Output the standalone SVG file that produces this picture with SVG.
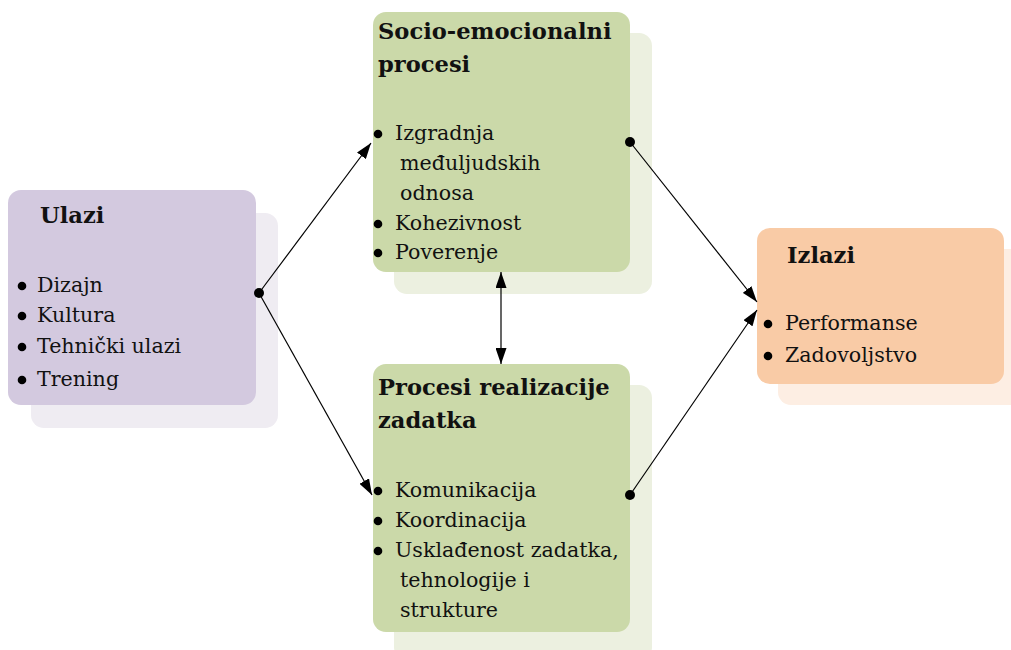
<svg xmlns="http://www.w3.org/2000/svg" width="1011" height="650" viewBox="0 0 1011 650">
  <style>
    .h { font-family: "DejaVu Serif", "Liberation Serif", serif; font-weight: bold; font-size: 22.6px; fill: #111; }
    .t { font-family: "DejaVu Serif", "Liberation Serif", serif; font-size: 20.6px; fill: #111; }
    .dot { fill: #000; }
    .conn { stroke: #000; stroke-width: 1.2; fill: none; }
  </style>
  <defs>
    <marker id="ah" viewBox="0 0 16 11" refX="16" refY="5.5" markerWidth="16" markerHeight="11" markerUnits="userSpaceOnUse" orient="auto-start-reverse">
      <path d="M0,0 L16,5.5 L0,11 z" fill="#000"/>
    </marker>
  </defs>
  <rect width="1011" height="650" fill="#fff"/>

  <!-- Inputs -->
  <g id="ulazi">
    <rect x="31" y="213" width="247" height="215" rx="13" fill="#efecf2"/>
    <rect x="8" y="190" width="248" height="215" rx="13" fill="#d3c9df"/>
    <text class="h" x="40" y="223">Ulazi</text>
    <circle class="dot" cx="22" cy="286" r="4.3"/>
    <text class="t" x="37" y="292">Dizajn</text>
    <circle class="dot" cx="22" cy="316" r="4.3"/>
    <text class="t" x="37" y="322">Kultura</text>
    <circle class="dot" cx="22" cy="347" r="4.3"/>
    <text class="t" x="37" y="353">Tehnički ulazi</text>
    <circle class="dot" cx="22" cy="380" r="4.3"/>
    <text class="t" x="37" y="386">Trening</text>
  </g>

  <!-- Socio-emotional processes -->
  <g id="socio">
    <rect x="394" y="33" width="258" height="261" rx="13" fill="#ecf0e0"/>
    <rect x="373" y="12" width="257" height="260" rx="13" fill="#cbd9a9"/>
    <text class="h" x="378" y="39">Socio-emocionalni</text>
    <text class="h" x="378" y="72">procesi</text>
    <circle class="dot" cx="378" cy="134" r="4.3"/>
    <text class="t" x="395" y="140">Izgradnja</text>
    <text class="t" x="400" y="170">međuljudskih</text>
    <text class="t" x="400" y="200">odnosa</text>
    <circle class="dot" cx="378" cy="224" r="4.3"/>
    <text class="t" x="395" y="230">Kohezivnost</text>
    <circle class="dot" cx="378" cy="253" r="4.3"/>
    <text class="t" x="395" y="259">Poverenje</text>
  </g>

  <!-- Task processes -->
  <g id="zadatak">
    <rect x="394" y="385" width="258" height="275" rx="13" fill="#ecf0e0"/>
    <rect x="373" y="364" width="257" height="268" rx="13" fill="#cbd9a9"/>
    <text class="h" x="378" y="395">Procesi realizacije</text>
    <text class="h" x="378" y="428">zadatka</text>
    <circle class="dot" cx="378" cy="491" r="4.3"/>
    <text class="t" x="395" y="497">Komunikacija</text>
    <circle class="dot" cx="378" cy="521" r="4.3"/>
    <text class="t" x="395" y="527">Koordinacija</text>
    <circle class="dot" cx="378" cy="551" r="4.3"/>
    <text class="t" x="395" y="557">Usklađenost zadatka,</text>
    <text class="t" x="400" y="587">tehnologije i</text>
    <text class="t" x="400" y="617">strukture</text>
  </g>

  <!-- Outputs -->
  <g id="izlazi">
    <rect x="778" y="249" width="245" height="156" rx="13" fill="#fdeee3"/>
    <rect x="757" y="228" width="247" height="156" rx="13" fill="#f9cba6"/>
    <text class="h" x="787" y="263">Izlazi</text>
    <circle class="dot" cx="768" cy="324" r="4.3"/>
    <text class="t" x="785" y="330">Performanse</text>
    <circle class="dot" cx="768" cy="356" r="4.3"/>
    <text class="t" x="785" y="362">Zadovoljstvo</text>
  </g>

  <!-- Connectors -->
  <g id="connectors">
    <line class="conn" x1="259" y1="293" x2="371" y2="143" marker-end="url(#ah)"/>
    <line class="conn" x1="259" y1="293" x2="372" y2="495" marker-end="url(#ah)"/>
    <line class="conn" x1="630" y1="142" x2="757" y2="302" marker-end="url(#ah)"/>
    <line class="conn" x1="630" y1="495" x2="757" y2="310" marker-end="url(#ah)"/>
    <line class="conn" x1="501" y1="272" x2="501" y2="364" marker-start="url(#ah)" marker-end="url(#ah)"/>
    <circle class="dot" cx="259" cy="293" r="5"/>
    <circle class="dot" cx="630" cy="142" r="5"/>
    <circle class="dot" cx="630" cy="495" r="5"/>
  </g>
</svg>
